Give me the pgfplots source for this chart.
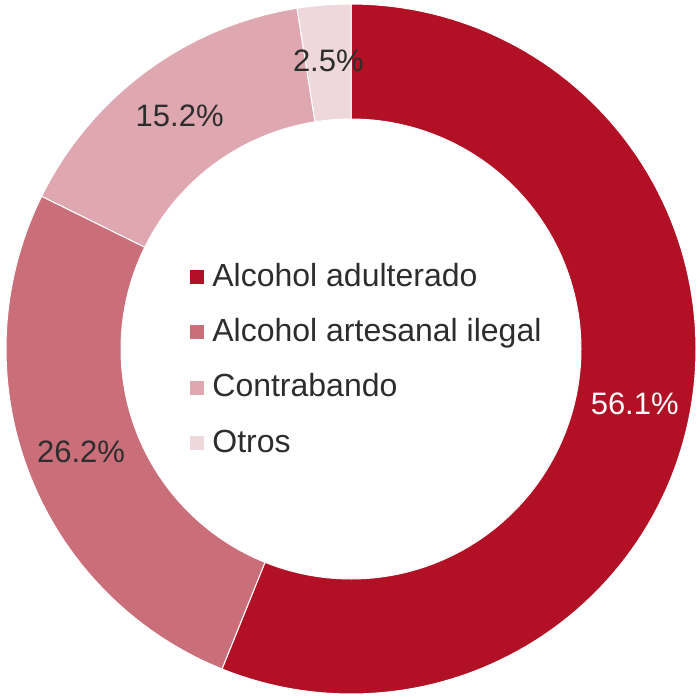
\documentclass[border=0pt]{standalone}
\usepackage{pgfplots}
\pgfplotsset{compat=1.18}
\usepgfplotslibrary{fillbetween}
\usepackage{fontspec}
\setmainfont{Liberation Sans}
\definecolor{c1}{RGB}{177,16,37}
\definecolor{c2}{RGB}{202,110,122}
\definecolor{c3}{RGB}{223,167,176}
\definecolor{c4}{RGB}{238,216,220}
\definecolor{txt}{RGB}{45,45,45}
% data (percent)
\def\pA{56.1}\def\pB{26.2}\def\pC{15.2}\def\pD{2.5}
\pgfmathsetmacro\aA{90}
\pgfmathsetmacro\aB{\aA-3.6*\pA}
\pgfmathsetmacro\aC{\aB-3.6*\pB}
\pgfmathsetmacro\aD{\aC-3.6*\pC}
\pgfmathsetmacro\aE{\aD-3.6*\pD}
\pgfmathsetmacro\mA{(\aA+\aB)/2}
\pgfmathsetmacro\mB{(\aB+\aC)/2}
\pgfmathsetmacro\mC{(\aC+\aD)/2}
\pgfmathsetmacro\mD{(\aD+\aE)/2}
\newcommand\slice[4]{%
  \addplot[name path=o#4, draw=none, domain=#1:#2, samples=120] ({351+345*cos(x)},{349+345*sin(x)});
  \addplot[name path=i#4, draw=none, domain=#1:#2, samples=120] ({351+230*cos(x)},{349+230*sin(x)});
  \addplot[fill=#3, draw=white, line width=0.5pt] fill between[of=o#4 and i#4];
}
\newcommand\lab[3]{%
  \node[font=\fontsize{15.5}{18}\selectfont, text=#3, inner sep=0pt] at (axis cs:{351+289*cos(#1)},{349+289*sin(#1)}) {#2};
}
\newcommand\leg[3]{%
  \node[anchor=base west, inner sep=0pt, font=\fontsize{16}{18}\selectfont, text=txt] at (axis cs:190,#1) {\textcolor{#2}{\rule[1pt]{7pt}{7pt}}\hspace{4pt}#3};
}
\begin{document}
\begin{tikzpicture}
\begin{axis}[
  width=350pt, height=349pt, scale only axis,
  xmin=0, xmax=700, ymin=0, ymax=698,
  hide axis, clip=false,
]
\addplot[draw=none] coordinates {(0,0) (700,698)};
\slice{\aB}{\aA}{c1}{a}
\slice{\aC}{\aB}{c2}{b}
\slice{\aD}{\aC}{c3}{c}
\slice{\aE}{\aD}{c4}{d}
\lab{\mA}{56.1\%}{white}
\lab{\mB}{26.2\%}{txt}
\lab{\mC}{15.2\%}{txt}
\lab{\mD}{2.5\%}{txt}
\leg{412}{c1}{Alcohol adulterado}
\leg{356.7}{c2}{Alcohol artesanal ilegal}
\leg{301.3}{c3}{Contrabando}
\leg{246}{c4}{Otros}
\end{axis}
\end{tikzpicture}
\end{document}
